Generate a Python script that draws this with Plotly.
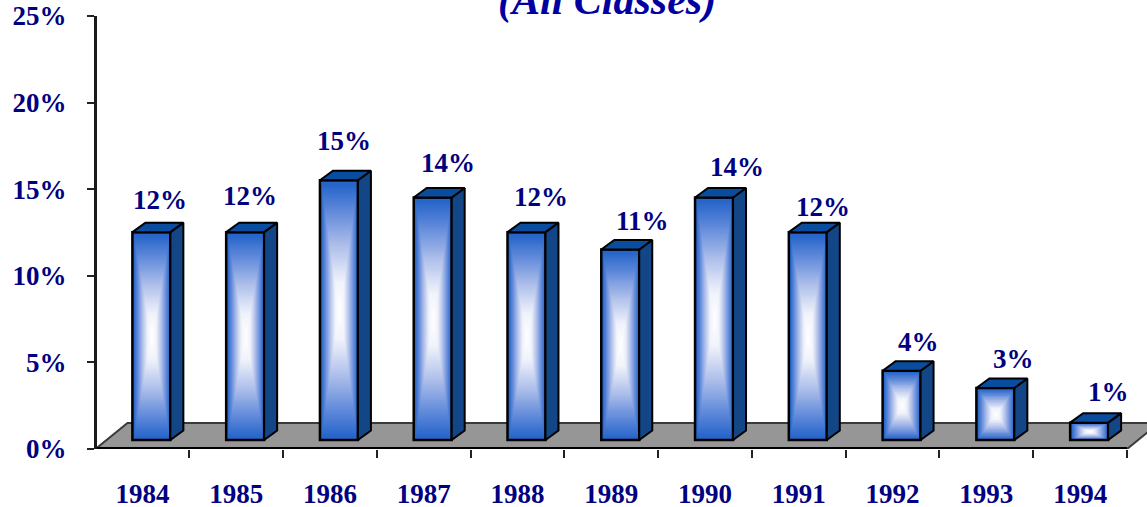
import numpy as np
import plotly.graph_objects as go

YEARS = ["1984", "1985", "1986", "1987", "1988", "1989", "1990", "1991", "1992", "1993", "1994"]
VALUES = [12, 12, 15, 14, 12, 11, 14, 12, 4, 3, 1]
Y_TICKS = [0, 5, 10, 15, 20, 25]
TITLE = "(All Classes)"

# Label nudges in pixels (styling, not data)
LABEL_DX = [9, 5, 5, 15, 15, 22, 23, 15, 17, 18, 19]
LABEL_DY = [32, 36, 39, 35, 35, 28, 31, 25, 29, 29, 31]

W, H = 1147, 507
L, R_PX, T, B_PX = 96.5, 1147, 16, 449
X0_PX = 95            # pixel where the first category band starts
UX = 93.82            # pixels per category
UY = (B_PX - T) / 25  # pixels per percent
NAVY = "#000080"
FONT = "Liberation Serif"

xmin = -0.5 + (L - X0_PX) / UX
xmax = -0.5 + (R_PX - X0_PX) / UX
bar_w = 38 / UX
bar_shift = 9 / UX
base = 9 / UY
dx, dy = 13 / UX, 9.5 / UY
floor_dx, floor_dy = 32 / UX, 26 / UY

fig = go.Figure()

# Gradient face of every bar
n = 36
colorscale = [[0, "#FFFFFF"], [0.22, "#F0F3FB"], [0.5, "#AEBFEA"], [0.78, "#5C87D9"], [1, "#1F60C8"]]
g = (np.arange(n) + 0.5) / n
u, v = np.meshgrid(np.abs(g * 2 - 1), np.abs(g * 2 - 1))
z = np.maximum(u, v)
for i, val in enumerate(VALUES):
    cx = i + bar_shift
    fig.add_trace(go.Heatmap(
        x=cx - bar_w / 2 + g * bar_w, y=base + g * val, z=z,
        zmin=0, zmax=1, colorscale=colorscale, showscale=False,
        zsmooth="best", hoverinfo="skip"))

# Outline of the front face
fig.add_trace(go.Bar(
    x=[i + bar_shift for i in range(len(VALUES))], y=VALUES, base=base, width=bar_w,
    marker=dict(color="rgba(0,0,0,0)", line=dict(color="#000000", width=2.5)),
    hoverinfo="skip"))

# Side and top faces
sx, sy, tx, ty = [], [], [], []
for i, val in enumerate(VALUES):
    xl = i + bar_shift - bar_w / 2
    xr = xl + bar_w
    top = base + val
    sx += [xr, xr + dx, xr + dx, xr, xr, None]
    sy += [base, base + dy, top + dy, top, base, None]
    tx += [xl, xl + dx, xr + dx, xr, xl, None]
    ty += [top, top + dy, top + dy, top, top, None]
for px, py, col in ((sx, sy, "#134687"), (tx, ty, "#0A4C9E")):
    fig.add_trace(go.Scatter(x=px, y=py, mode="lines", fill="toself", fillcolor=col,
                             line=dict(color="#000000", width=2), hoverinfo="skip"))

# Category axis line
fig.add_trace(go.Scatter(x=[xmin, len(VALUES) - 0.5], y=[0, 0], mode="lines",
                         line=dict(color="#000000", width=4), cliponaxis=False, hoverinfo="skip"))

# Grey floor
x0, x1 = -0.5, len(VALUES) - 0.5
floor_path = (f"M {x0} 0 L {x0 + floor_dx} {floor_dy} L {x1 + floor_dx} {floor_dy} L {x1} 0 Z")
fig.add_shape(type="path", path=floor_path, xref="x", yref="y", layer="below",
              fillcolor="#969696", line=dict(color="#3A3A3A", width=2))

annotations = [dict(x=i + bar_shift, y=base + val, text=f"{val}%", showarrow=False,
                    xshift=LABEL_DX[i], yshift=LABEL_DY[i], yanchor="middle", xanchor="center",
                    font=dict(family=FONT, size=27, color=NAVY, weight="bold"))
               for i, val in enumerate(VALUES)]
annotations.append(dict(xref="x domain", yref="y domain", x=(607 - L) / (R_PX - L), y=1,
                        yanchor="bottom", yshift=-10, text=f"<b><i>{TITLE}</i></b>",
                        showarrow=False, font=dict(family=FONT, size=42, color="#0000A0")))

fig.update_layout(
    annotations=annotations,
    width=W, height=H, autosize=False, showlegend=False,
    margin=dict(l=L, r=W - R_PX, t=T, b=H - B_PX, pad=0, autoexpand=False),
    paper_bgcolor="#FFFFFF", plot_bgcolor="#FFFFFF",
    barmode="overlay",
    xaxis=dict(range=[xmin, xmax], tickmode="array", tickvals=list(range(len(YEARS))), ticktext=YEARS,
               automargin=False,
               showgrid=False, zeroline=False, showline=False, ticks="", ticklabelstandoff=26,
               tickfont=dict(family=FONT, size=27, color=NAVY, weight="bold"),
               minor=dict(tickmode="array", tickvals=[i - 0.5 for i in range(1, len(YEARS) + 1)],
                          ticks="outside", ticklen=8, tickwidth=1.5, tickcolor="#222222", showgrid=False)),
    yaxis=dict(range=[0, 25], tickmode="array", tickvals=Y_TICKS, ticktext=[f"{t}%" for t in Y_TICKS],
               automargin=False,
               showgrid=False, zeroline=False, showline=True, linecolor="#1A1A1A", linewidth=3,
               ticks="outside", ticklen=7, tickwidth=1.5, tickcolor="#222222", ticklabelstandoff=15,
               tickfont=dict(family=FONT, size=27, color=NAVY, weight="bold")),
)

fig.write_html("out.html", config={"displayModeBar": False},
               post_script="document.body.style.margin='0';document.body.style.overflow='hidden';")
